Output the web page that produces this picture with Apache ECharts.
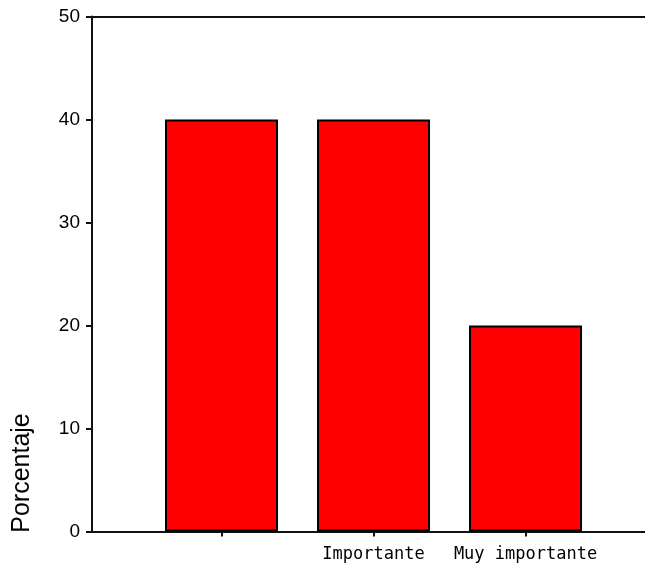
<!DOCTYPE html>
<html>
<head>
<meta charset="utf-8">
<script src="https://cdn.jsdelivr.net/npm/echarts@6/dist/echarts.min.js"></script>
<style>
html,body{margin:0;padding:0;background:#fff;}
#chart{width:645px;height:569px;}
</style>
</head>
<body>
<div id="chart"></div>
<script>
const categories = ["", "Importante", "Muy importante"];
const values = [40, 40, 20];
const yTicks = [0, 10, 20, 30, 40, 50];
const yAxisTitle = "Porcentaje";

const positions = categories.map((c, i) => i + 1);
const barData = positions.map((p, i) => [p, values[i]]);

const chart = echarts.init(document.getElementById('chart'), null, {renderer: 'canvas'});
const lineStyle = {color: '#111', width: 2};
chart.setOption({
  animation: false,
  backgroundColor: '#fff',
  grid: {left: 92, right: 0, top: 16.5, bottom: 37.5},
  xAxis: [{
    type: 'value',
    min: 0.148,
    max: 3.786,
    axisLine: {show: true, lineStyle: lineStyle},
    axisTick: {show: true, length: 5, lineStyle: lineStyle, customValues: positions},
    axisLabel: {
      show: true,
      customValues: positions,
      margin: 15,
      color: '#000',
      fontFamily: 'DejaVu Sans Mono',
      fontSize: 17,
      formatter: v => categories[Math.round(v) - 1] || ''
    },
    splitLine: {show: false}
  }, {
    type: 'value',
    position: 'top',
    min: 0.148,
    max: 3.786,
    axisLine: {show: true, onZero: false, lineStyle: lineStyle},
    axisTick: {show: false},
    axisLabel: {show: false},
    splitLine: {show: false}
  }],
  yAxis: {
    type: 'value',
    min: yTicks[0],
    max: yTicks[yTicks.length - 1],
    interval: 10,
    name: yAxisTitle,
    nameLocation: 'middle',
    nameGap: 57,
    nameTextStyle: {
      fontFamily: 'Liberation Sans',
      fontSize: 25,
      color: '#000',
      padding: [0, 398, 0, 0]
    },
    axisLine: {show: true, lineStyle: lineStyle},
    axisTick: {show: true, length: 6, lineStyle: lineStyle},
    axisLabel: {
      margin: 12,
      color: '#000',
      fontFamily: 'Liberation Sans',
      fontSize: 19
    },
    splitLine: {show: false}
  },
  series: [{
    type: 'bar',
    data: barData,
    barWidth: 113,
    itemStyle: {color: '#ff0000', borderColor: '#000', borderWidth: 2}
  }]
});
</script>
</body>
</html>
